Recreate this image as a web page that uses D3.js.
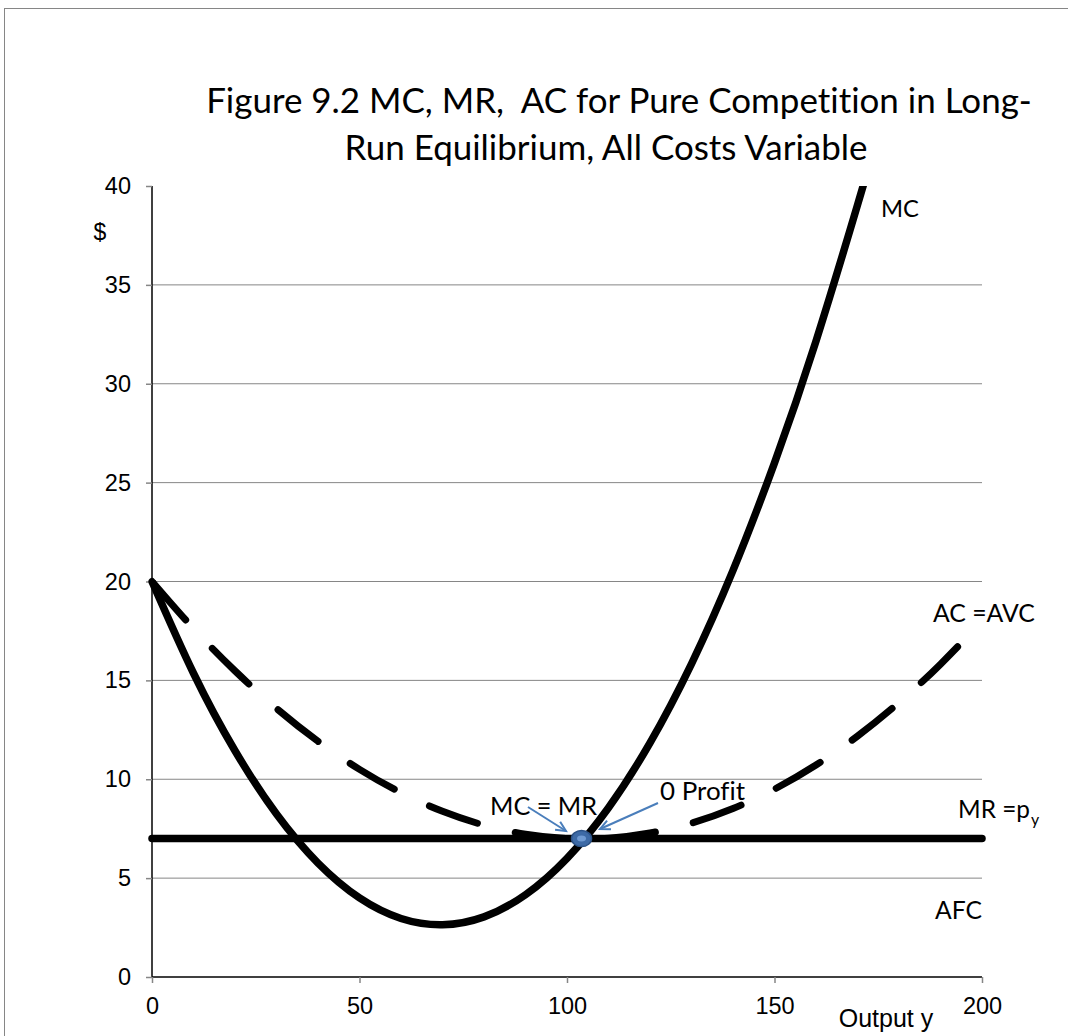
<!DOCTYPE html>
<html>
<head>
<meta charset="utf-8">
<script src="https://cdn.jsdelivr.net/npm/d3@7"></script>
<style>
  body { margin: 0; background: #fff; }
  svg { display: block; }
  text { white-space: pre; font-variant-ligatures: none; font-feature-settings: "liga" 0; }
</style>
</head>
<body>
<div id="chart"></div>
<script>
// Values
const outputY = [0, 10, 20, 30, 40, 50, 60, 70, 80, 90, 100, 110, 120, 130, 140, 150, 160, 170, 172];
const mcValues = [20, 15.36, 11.44, 8.24, 5.76, 4.0, 2.96, 2.64, 3.04, 4.16, 6.0, 8.56, 11.84, 15.84, 20.56, 26.0, 32.16, 39.04, 40.5];
const acOutput = [0, 10, 20, 30, 40, 50, 60, 70, 80, 90, 100, 110, 120, 130, 140, 150, 160, 170, 180, 190, 200];
const acValues = [20, 17.62, 15.48, 13.58, 11.92, 10.5, 9.32, 8.38, 7.68, 7.22, 7.0, 7.02, 7.28, 7.78, 8.52, 9.5, 10.72, 12.18, 13.88, 15.82, 18.0];
const mrOutput = [0, 200];
const mrValues = [7, 7];
const equilibrium = { y: 103.5, value: 7 };
const xTicks = [0, 50, 100, 150, 200];
const yTicks = [0, 5, 10, 15, 20, 25, 30, 35, 40];
const titleLines = ['Figure 9.2 MC, MR,  AC for Pure Competition in Long-', 'Run Equilibrium, All Costs Variable'];

const W = 1068, H = 1036;
const plotLeft = 152, plotRight = 982, plotTop = 186, plotBottom = 977;
const titleFont = 'Lato, "Open Sans", sans-serif';
const axisFont = '"Liberation Sans", Arial, sans-serif';

const svg = d3.select('#chart')
    .append('svg')
    .attr('width', W)
    .attr('height', H);

// outer frame
svg.append('rect')
    .attr('x', 4.5).attr('y', 8.5)
    .attr('width', W + 10).attr('height', H + 10)
    .attr('fill', 'none')
    .attr('stroke', '#868686')
    .attr('stroke-width', 1);

const x = d3.scaleLinear().domain([0, 200]).range([plotLeft, plotRight]);
const y = d3.scaleLinear().domain([0, 40]).range([plotBottom, plotTop]);

// gridlines
svg.append('g')
    .selectAll('line')
    .data(yTicks.filter(d => d > 0 && d < 40))
    .enter()
    .append('line')
    .attr('x1', plotLeft).attr('x2', plotRight)
    .attr('y1', d => y(d)).attr('y2', d => y(d))
    .attr('stroke', '#868686')
    .attr('stroke-width', 1);

// axes
const yAxis = svg.append('g')
    .attr('transform', `translate(${plotLeft},0)`)
    .call(d3.axisLeft(y).tickValues(yTicks).tickSize(6).tickPadding(15));
const xAxis = svg.append('g')
    .attr('transform', `translate(0,${plotBottom})`)
    .call(d3.axisBottom(x).tickValues(xTicks).tickSize(6).tickPadding(14));

[xAxis, yAxis].forEach(g => {
    g.select('.domain').attr('stroke', '#000').attr('stroke-width', 1.5);
    g.selectAll('.tick line').attr('stroke', '#868686').attr('stroke-width', 1.5);
    g.selectAll('.tick text')
        .attr('fill', '#000')
        .style('font-family', axisFont)
        .style('font-size', '23.5px');
});
yAxis.select('.domain').attr('d', `M0,${plotTop}V${plotBottom}`);
xAxis.select('.domain').attr('d', `M${plotLeft},0H${plotRight}`);

svg.append('text')
    .attr('x', 100).attr('y', 240)
    .attr('text-anchor', 'middle')
    .style('font-family', axisFont)
    .style('font-size', '23px')
    .text('$');

svg.append('text')
    .attr('x', 886).attr('y', 1027)
    .attr('text-anchor', 'middle')
    .style('font-family', axisFont)
    .style('font-size', '25px')
    .text('Output y');

// clip to the plot area so MC stops at the top
svg.append('clipPath')
    .attr('id', 'plot-clip')
    .append('rect')
    .attr('x', plotLeft - 10).attr('y', plotTop)
    .attr('width', plotRight - plotLeft + 20).attr('height', plotBottom - plotTop + 20);

const line = d3.line()
    .x(d => x(d[0]))
    .y(d => y(d[1]))
    .curve(d3.curveNatural);

const plot = svg.append('g').attr('clip-path', 'url(#plot-clip)');

// AC = AVC (dashed)
plot.append('path')
    .datum(acOutput.map((d, i) => [d, acValues[i]]))
    .attr('d', line)
    .attr('fill', 'none')
    .attr('stroke', '#000')
    .attr('stroke-width', 7)
    .attr('stroke-linecap', 'round')
    .attr('stroke-dasharray', '51,39');

// MC
plot.append('path')
    .datum(outputY.map((d, i) => [d, mcValues[i]]))
    .attr('d', line)
    .attr('fill', 'none')
    .attr('stroke', '#000')
    .attr('stroke-width', 7.5);

// MR = p
plot.append('path')
    .datum(mrOutput.map((d, i) => [d, mrValues[i]]))
    .attr('d', d3.line().x(d => x(d[0])).y(d => y(d[1])))
    .attr('fill', 'none')
    .attr('stroke', '#000')
    .attr('stroke-width', 7.5)
    .attr('stroke-linecap', 'round');

// fit a text to a target width by scaling its font size
function label(str, x0, base, width, family, size) {
    const t = svg.append('text')
        .attr('x', x0).attr('y', base)
        .style('font-family', family)
        .style('font-size', size + 'px')
        .attr('fill', '#000')
        .text(str);
    const w = t.node().getComputedTextLength();
    t.style('font-size', (size * width / w) + 'px');
    return t;
}

// title
const tl1 = svg.append('text')
    .attr('x', 619).attr('y', 113)
    .attr('text-anchor', 'middle')
    .style('font-family', titleFont)
    .style('font-size', '30px')
    .text(titleLines[0]);
const tw = tl1.node().getComputedTextLength();
const titleSize = 30 * 826 / tw;
tl1.style('font-size', titleSize + 'px');
svg.append('text')
    .attr('x', 606).attr('y', 160)
    .attr('text-anchor', 'middle')
    .style('font-family', titleFont)
    .style('font-size', titleSize + 'px')
    .text(titleLines[1]);

// curve labels
label('MC', 881, 217, 38, titleFont, 24);
label('AC =AVC', 933, 622, 102, titleFont, 24);
label('AFC', 935, 919, 47, titleFont, 24);
label('MC = MR', 490, 815, 107, titleFont, 24);
label('0 Profit', 660, 800, 85, titleFont, 24);
const mr = label('MR =p', 958, 818, 72, titleFont, 24);
const mrSize = parseFloat(mr.style('font-size'));
svg.append('text')
    .attr('x', 1031).attr('y', 825)
    .style('font-family', titleFont)
    .style('font-size', (mrSize * 0.65) + 'px')
    .text('y');

// arrows
const arrowBlue = '#4a7ebb';
const arrows = [
    { from: [528, 807], to: [566, 831] },
    { from: [658, 803], to: [600, 829] }
];
arrows.forEach(a => {
    const [x1, y1] = a.from, [x2, y2] = a.to;
    const ang = Math.atan2(y2 - y1, x2 - x1);
    const len = 11, spread = 0.45;
    const head = `M${x2 - len * Math.cos(ang - spread)},${y2 - len * Math.sin(ang - spread)}L${x2},${y2}L${x2 - len * Math.cos(ang + spread)},${y2 - len * Math.sin(ang + spread)}`;
    svg.append('line')
        .attr('x1', x1).attr('y1', y1).attr('x2', x2).attr('y2', y2)
        .attr('stroke', arrowBlue).attr('stroke-width', 2);
    svg.append('path')
        .attr('d', head)
        .attr('fill', 'none')
        .attr('stroke', arrowBlue).attr('stroke-width', 2);
});

// equilibrium point
svg.append('ellipse')
    .attr('cx', x(equilibrium.y)).attr('cy', y(equilibrium.value))
    .attr('rx', 10).attr('ry', 8)
    .attr('fill', '#3d6aa6')
    .attr('stroke', '#2c5286')
    .attr('stroke-width', 1.5);
svg.append('ellipse')
    .attr('cx', x(equilibrium.y)).attr('cy', y(equilibrium.value))
    .attr('rx', 4.5).attr('ry', 3)
    .attr('fill', '#6f9ad2');
</script>
</body>
</html>
